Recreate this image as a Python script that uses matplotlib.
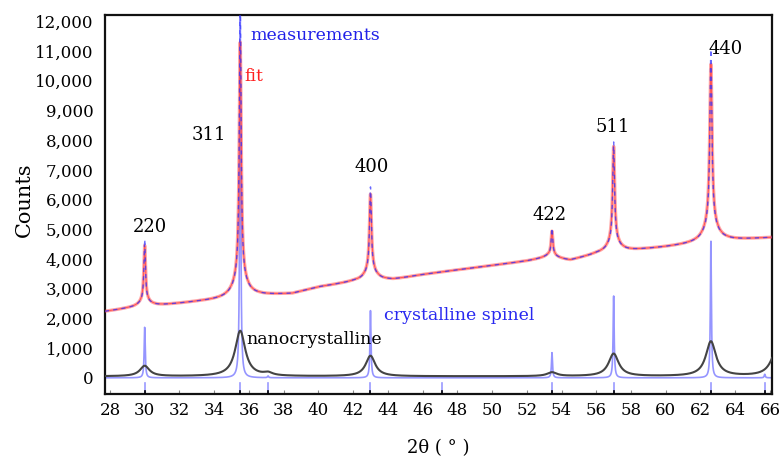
import numpy as np
import matplotlib
matplotlib.use("Agg")
import matplotlib.pyplot as plt

# ---------------- data ----------------
# background of measured pattern (2theta, counts)
bg_x = [27.7, 29.0, 31.0, 33.0, 34.5, 36.5, 38.5, 40.0, 42.0, 44.3, 46.0, 48.0,
        50.0, 52.0, 53.2, 54.5, 56.0, 58.0, 60.0, 61.5, 63.5, 66.1]
bg_y = [2230, 2330, 2440, 2560, 2640, 2760, 2830, 3050, 3230, 3300, 3470, 3630,
        3780, 3930, 4050, 3950, 4160, 4280, 4400, 4500, 4620, 4720]

# Bragg peaks of spinel (hkl labels and positions)
hkl_labels = ["220", "311", "400", "422", "511", "440"]
hkl_pos = [30.0, 35.5, 43.0, 53.45, 57.0, 62.6]
fit_peak_height = [1850, 7900, 2550, 780, 3150, 5350]      # above background
meas_peak_height = [2050, 9300, 2800, 880, 3300, 5850]
sharp_hwhm = [0.06, 0.07, 0.07, 0.06, 0.07, 0.08]
broad_height = [220, 700, 380, 120, 420, 650]
broad_hwhm = [0.4, 0.45, 0.4, 0.35, 0.4, 0.45]

# crystalline spinel reference pattern
cs_pos = [30.0, 35.5, 37.1, 43.0, 53.45, 57.0, 62.6, 65.7]
cs_height = [1720, 12600, 60, 2300, 850, 2770, 4650, 120]
cs_hwhm = 0.035
cs_base = 0

# nanocrystalline pattern
nc_pos = [30.0, 35.5, 37.1, 43.0, 53.45, 57.0, 62.6, 66.4]
nc_height = [350, 1530, 90, 690, 130, 760, 1170, 900]
nc_hwhm = [0.33, 0.35, 0.3, 0.33, 0.33, 0.35, 0.35, 0.4]
nc_base = 50

# reference marks at the bottom
mark_pos = [30.0, 35.5, 37.1, 43.0, 47.1, 53.45, 57.0, 62.6, 65.7]

x = np.linspace(27.7, 66.12, 4000)


def lor(xx, p, h, w):
    return h / (1 + ((xx - p) / w) ** 2)


bg = np.interp(x, bg_x, bg_y)
fit = bg.copy()
meas = bg.copy()
for p, hf, hm, w, hb, wb in zip(hkl_pos, fit_peak_height, meas_peak_height,
                                sharp_hwhm, broad_height, broad_hwhm):
    fit += lor(x, p, hf, w) + lor(x, p, hb, wb)
    meas += lor(x, p, hm, w * 0.85) + lor(x, p, hb, wb)

cs = np.full_like(x, cs_base, dtype=float)
for p, h in zip(cs_pos, cs_height):
    cs += lor(x, p, h, cs_hwhm)

nc = np.full_like(x, nc_base, dtype=float)
for p, h, w in zip(nc_pos, nc_height, nc_hwhm):
    nc += lor(x, p, h, w)

# ---------------- figure ----------------
serif = "DejaVu Serif"
fig = plt.figure(figsize=(7.83, 4.65), dpi=100)
ax = fig.add_axes([0.134, 0.153, 0.852, 0.815])

ax.plot(x, cs, color="#8a8aff", lw=1.2, alpha=0.9, zorder=2)
ax.plot(x, nc, color="#444444", lw=1.5, zorder=3)
ax.plot(x, fit, color="#ff3a3a", lw=2.4, alpha=0.45, zorder=4)
ax.plot(x, meas, color="#3535ff", lw=1.0, alpha=0.75, zorder=5,
        ls=(0, (3, 3)))
ax.plot(x, fit, color="#ff4040", lw=0.8, alpha=0.8, zorder=4)

for p in mark_pos:
    ax.plot([p, p], [-180, -540], color="#9a9aff", lw=1.2, zorder=2)
    ax.plot([p, p], [-430, -540], color="black", lw=1.2, zorder=3)

ax.set_xlim(27.71, 66.12)
ax.set_ylim(-540, 12220)
ax.set_xticks(np.arange(28, 67, 2))
ax.set_yticks(np.arange(0, 12001, 1000))
ax.set_yticklabels([f"{v:,}" for v in range(0, 12001, 1000)])
ax.tick_params(axis="x", direction="in", length=3, color="#888888",
               labelsize=12, pad=6)
ax.tick_params(axis="y", length=0, labelsize=12, pad=8)
for lab in ax.get_xticklabels() + ax.get_yticklabels():
    lab.set_family(serif)
for s in ax.spines.values():
    s.set_linewidth(1.6)
    s.set_color("#111111")

ax.set_ylabel("Counts", family=serif, fontsize=15)
ax.yaxis.set_label_coords(-0.106, 0.512)
ax.set_xlabel("2θ ( ° )", family=serif, fontsize=13, labelpad=14)

lbl_x = [30.3, 33.7, 43.08, 53.33, 56.93, 63.46]
lbl_y = [5080, 8180, 7100, 5490, 8450, 11080]
for t, lx, ly in zip(hkl_labels, lbl_x, lbl_y):
    ax.text(lx, ly, t, family=serif, fontsize=13, ha="center", va="center")

ax.text(36.06, 11510, "measurements", color="#2020e8", family=serif,
        fontsize=12.5, va="center")
ax.text(35.75, 10130, "fit", color="#ff2020", family=serif, fontsize=12.5,
        va="center")
ax.text(43.77, 2090, "crystalline spinel", color="#2828f0", family=serif,
        fontsize=12.5, va="center")
ax.text(35.83, 1280, "nanocrystalline", color="black", family=serif,
        fontsize=12.5, va="center")

fig.savefig("out.png", dpi=100)
